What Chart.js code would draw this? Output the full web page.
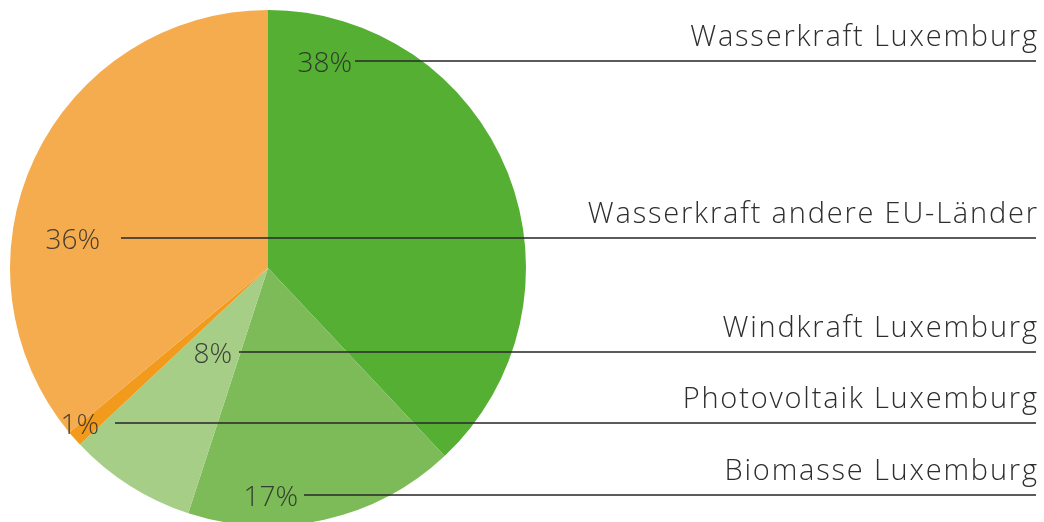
<!DOCTYPE html>
<html>
<head>
<meta charset="utf-8">
<script src="https://cdn.jsdelivr.net/npm/chart.js@4/dist/chart.umd.min.js"></script>
<style>
  html, body { margin: 0; padding: 0; background: #fff; overflow: hidden; }
  #wrap { width: 1044px; height: 522px; overflow: hidden; }
</style>
</head>
<body>
<div id="wrap"><canvas id="chartPie" width="1044" height="536"></canvas></div>
<script>
// ─── Datos ───────────────────────────────────────────────────────────────────
const categories = [
  'Wasserkraft Luxemburg',
  'Biomasse Luxemburg',
  'Windkraft Luxemburg',
  'Photovoltaik Luxemburg',
  'Wasserkraft andere EU-Länder',
];
const shares = [38, 17, 8, 1, 36];
const colors = ['#55af33', '#7cbb58', '#a6ce86', '#f29a1c', '#f5ac4e'];

// ─── Posición de etiquetas (px relativos al lienzo) ──────────────────────────
const pctRight  = [352, 298, 232, 99, 100];    // borde derecho del texto %
const lineStart = [355, 304, 239, 115, 121];
const lineY     = [61, 495, 352, 423, 238];
const lineEnd   = 1036;

const FONT = '300 29px "Open Sans", Lato, sans-serif';
const PCT_FONT = '300 28px "Open Sans", Lato, sans-serif';
const SPACING = 1.8;

const leaderLabels = {
  id: 'leaderLabels',
  afterDatasetsDraw(chart) {
    const { ctx } = chart;
    const vals = chart.data.datasets[0].data;
    ctx.save();
    vals.forEach((v, i) => {
      const y = lineY[i];
      ctx.strokeStyle = 'rgba(45,45,45,.78)';
      ctx.lineWidth = 2;
      ctx.beginPath();
      ctx.moveTo(lineStart[i], y);
      ctx.lineTo(lineEnd, y);
      ctx.stroke();

      ctx.letterSpacing = '0px';
      ctx.fillStyle = 'rgba(40,40,40,.85)';
      ctx.font = PCT_FONT;
      ctx.textAlign = 'right';
      ctx.textBaseline = 'middle';
      ctx.fillText(`${v}%`, pctRight[i], y + 3);

      ctx.letterSpacing = SPACING + 'px';
      ctx.fillStyle = '#2e2e2e';
      ctx.font = FONT;
      ctx.textBaseline = 'alphabetic';
      ctx.fillText(chart.data.labels[i], lineEnd + 1 + SPACING, y - 15);
    });
    ctx.restore();
  },
};

new Chart(document.getElementById('chartPie').getContext('2d'), {
  type: 'pie',
  data: {
    labels: categories,
    datasets: [{ data: shares, backgroundColor: colors, borderWidth: 0 }],
  },
  options: {
    responsive: false, animation: false,
    layout: { padding: { left: 10, top: 10, right: 518, bottom: 10 } },
    plugins: { legend: { display: false }, tooltip: { enabled: false } },
  },
  plugins: [leaderLabels],
});
</script>
</body>
</html>
